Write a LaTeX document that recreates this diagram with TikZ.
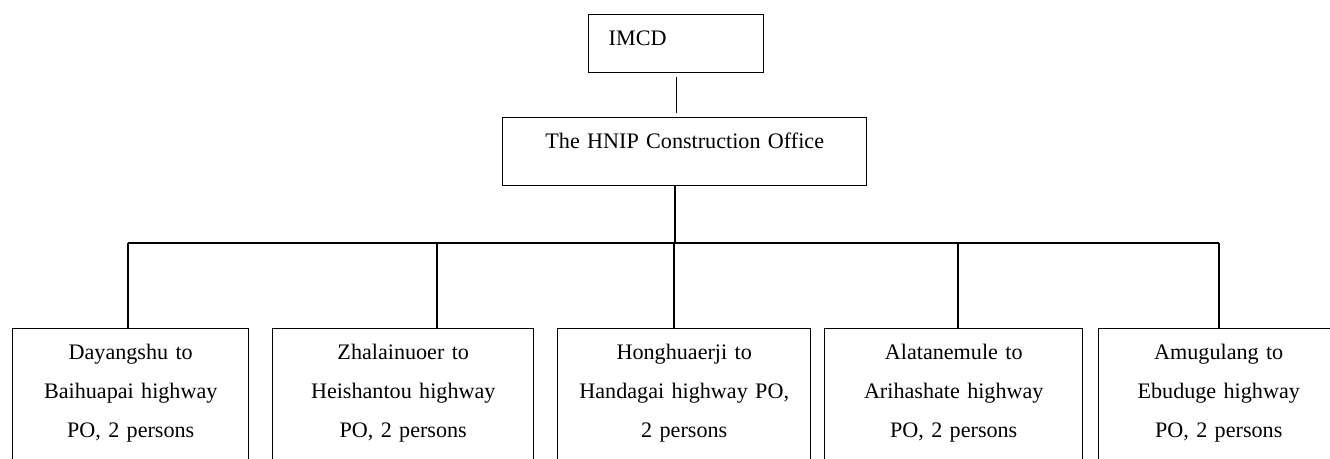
\documentclass[tikz,border=0pt]{standalone}
\usepackage{fontspec}
\setmainfont{Liberation Serif}

\begin{document}
\begin{tikzpicture}[x = 0.75pt, y = -0.75pt, line width = 1.1pt,
	font = \fontsize{16.6}{29.25}\selectfont,
	unit/.style = {draw, anchor = north west, inner xsep = 0pt, inner ysep = 9.25pt, text height = 14pt},
	office/.style = {unit, align = center, text width = #1, text depth = 120pt}]

\useasboundingbox (0, 0) rectangle (1330, 458);
\clip (0, 0) rectangle (1330, 458);

	\node [unit, align = left, inner xsep = 15pt, text width = 101.25pt, text depth = 11pt] (imcd) at (588, 14) {IMCD};
	\node [unit, align = center, text width = 273pt, text depth = 18.5pt] (hnip) at (502, 117) {The HNIP Construction Office};

	\node [office = 177pt] (po1) at (12, 328) {Dayangshu to\\Baihuapai highway\\PO, 2 persons};
	\node [office = 195.75pt] (po2) at (272, 328) {Zhalainuoer to\\Heishantou highway\\PO, 2 persons};
	\node [office = 189.75pt] (po3) at (557, 328) {Honghuaerji to\\Handagai highway PO,\\2 persons};
	\node [office = 193.5pt] (po4) at (824, 328) {Alatanemule to\\Arihashate highway\\PO, 2 persons};
	\node [office = 180pt] (po5) at (1098, 328) {Amugulang to\\Ebuduge highway\\PO, 2 persons};

	\coordinate (bus) at (675, 243);
	\foreach \x [count = \i] in {128, 437, 674, 958, 1219}
		\coordinate (d\i) at (\x, 328);

	\draw [shorten < = 3pt, shorten > = 3pt] (imcd.south) -- (imcd.south |- hnip.north);
	\draw (hnip.south -| bus) -- (bus);
	\draw (d1 |- bus) -- (d5 |- bus);
	\foreach \i in {1, ..., 5}
		\draw (d\i) -- (d\i |- bus);

\end{tikzpicture}
\end{document}
